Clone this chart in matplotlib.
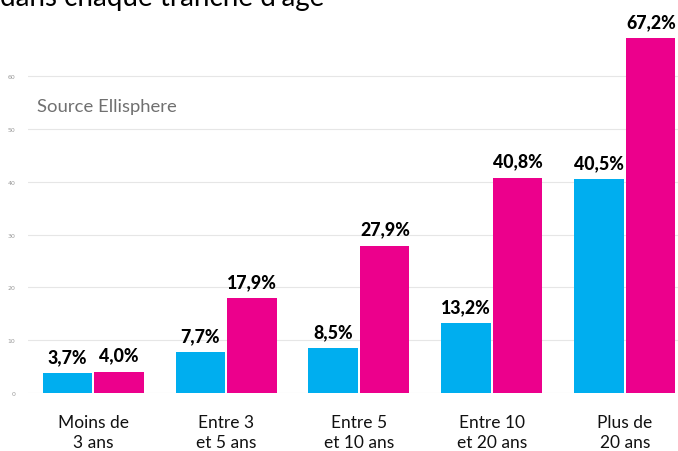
import matplotlib
matplotlib.use("Agg")
import matplotlib.pyplot as plt
import numpy as np

categories = ["Moins de\n3 ans", "Entre 3\net 5 ans", "Entre 5\net 10 ans", "Entre 10\net 20 ans", "Plus de\n20 ans"]
serie_bleue = [3.7, 7.7, 8.5, 13.2, 40.5]
serie_rose = [4.0, 17.9, 27.9, 40.8, 67.2]
yticks = [0, 10, 20, 30, 40, 50, 60]

BLUE = "#00AEEF"
PINK = "#EC008C"

fig = plt.figure(figsize=(6.78, 4.52), dpi=100)
ax = fig.add_axes([28/678, 1-394/452, 1-28/678, 394/452])

x = np.arange(len(categories))
w = 0.37
gap = 0.02
b1 = ax.bar(x - w/2 - gap/2, serie_bleue, w, color=BLUE, zorder=3)
b2 = ax.bar(x + w/2 + gap/2, serie_rose, w, color=PINK, zorder=3)

def fmt(v):
    return f"{v:.1f}%".replace(".", ",")

for bars, vals in ((b1, serie_bleue), (b2, serie_rose)):
    for r, v in zip(bars, vals):
        ax.annotate(fmt(v), (r.get_x() + r.get_width()/2, v), xytext=(0, 6),
                    textcoords="offset points", ha="center", va="bottom",
                    fontsize=12.8, fontweight="black", family="Lato", color="black")

ax.set_xlim(-0.49, 4.4)
ax.set_ylim(0, 74.6)
ax.set_yticks(yticks)
ax.set_yticklabels([str(t) for t in yticks], fontsize=4.5, color="#999999")
ax.tick_params(axis="y", length=0, pad=9)
ax.tick_params(axis="x", length=0, pad=15)
ax.set_xticks(x)
ax.set_xticklabels(categories, fontsize=12.5, family="Lato", color="#111111", linespacing=1.3)
ax.grid(axis="y", color="#e6e6e6", linewidth=0.8, zorder=0)
for s in ax.spines.values():
    s.set_visible(False)

fig.text(37/678, 1-107/452, "Source Ellisphere", fontsize=13.3, color="#707070",
         family="Lato", va="center", ha="left")
fig.text(0.0, 1-6/452, "dans chaque tranche d'âge", fontsize=20, color="black",
         family="Lato", va="baseline", ha="left")

fig.savefig("out.png", dpi=100)
